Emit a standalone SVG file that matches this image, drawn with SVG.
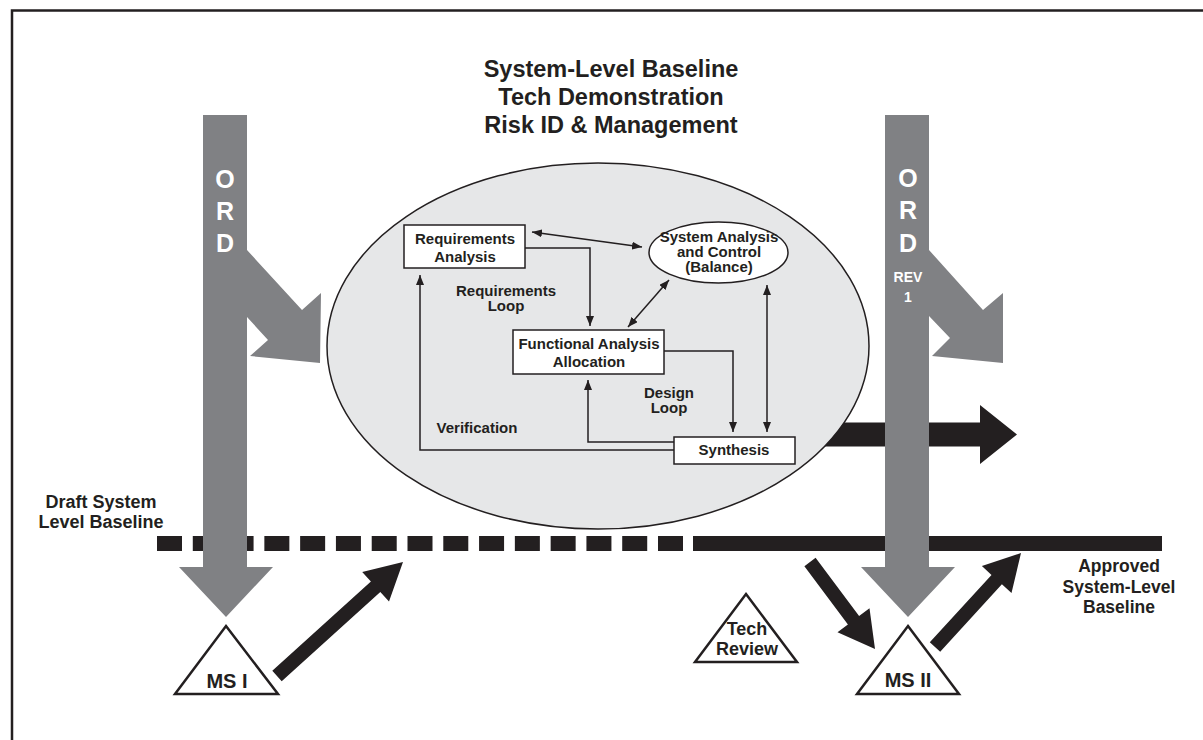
<svg xmlns="http://www.w3.org/2000/svg" width="1203" height="740" viewBox="0 0 1203 740">
<defs>
<marker id="ah" viewBox="0 0 10 8" refX="10" refY="4" markerWidth="10" markerHeight="8" markerUnits="userSpaceOnUse" orient="auto-start-reverse">
<path d="M0,0 L10,4 L0,8 z" fill="#231f20"/>
</marker>
</defs>
<style>
.t{font-family:"Liberation Sans",Arial,sans-serif;font-weight:bold;fill:#231f20;text-anchor:middle}
.w{font-family:"Liberation Sans",Arial,sans-serif;font-weight:bold;fill:#ffffff;text-anchor:middle}
.gray{fill:#808184}
.blk{fill:#231f20}
.box{fill:#ffffff;stroke:#231f20;stroke-width:1.5}
.ln{fill:none;stroke:#231f20;stroke-width:1.5}
.tri{fill:#ffffff;stroke:#231f20;stroke-width:2.5;stroke-linejoin:miter}
</style>
<rect width="1203" height="740" fill="#ffffff"/>
<g id="frame">
<path d="M12,740 V10.5 H1203" fill="none" stroke="#231f20" stroke-width="2.5"/>
</g>
<g id="title">
<text class="t" x="611" y="77" font-size="23.5">System-Level Baseline</text>
<text class="t" x="611" y="105" font-size="23.5">Tech Demonstration</text>
<text class="t" x="611" y="133" font-size="23.5">Risk ID &amp; Management</text>
</g>
<g id="output-arrow">
<polygon class="blk" points="780,422.5 980,422.5 980,405 1017,434.5 980,464 980,446.5 780,446.5"/>
</g>
<g id="se-process">
<ellipse cx="598" cy="346" rx="271" ry="183" fill="#e6e7e8" stroke="#231f20" stroke-width="1.5"/>
</g>
<g id="connectors">
<line class="ln" x1="532" y1="232" x2="642" y2="247" marker-start="url(#ah)" marker-end="url(#ah)"/>
<line class="ln" x1="669" y1="280" x2="628" y2="327" marker-start="url(#ah)" marker-end="url(#ah)"/>
<line class="ln" x1="767" y1="285" x2="767" y2="432" marker-start="url(#ah)" marker-end="url(#ah)"/>
<path class="ln" d="M525,248 H590 V326" marker-end="url(#ah)"/>
<path class="ln" d="M664,351 H733 V432" marker-end="url(#ah)"/>
<path class="ln" d="M674,442 H588 V380" marker-end="url(#ah)"/>
<path class="ln" d="M674,450 H420 V275" marker-end="url(#ah)"/>
</g>
<g id="requirements-analysis">
<rect class="box" x="404" y="225" width="121" height="43"/>
<text class="t" x="465" y="244" font-size="15">Requirements</text>
<text class="t" x="465" y="262" font-size="15">Analysis</text>
</g>
<g id="system-analysis">
<ellipse class="box" cx="718.5" cy="252.5" rx="69.5" ry="30.5"/>
<text class="t" x="719" y="242" font-size="15">System Analysis</text>
<text class="t" x="719" y="257" font-size="15">and Control</text>
<text class="t" x="719" y="272" font-size="15">(Balance)</text>
</g>
<g id="functional-analysis">
<rect class="box" x="513" y="330" width="151" height="44"/>
<text class="t" x="589" y="349" font-size="15">Functional Analysis</text>
<text class="t" x="589" y="367" font-size="15">Allocation</text>
</g>
<g id="synthesis">
<rect class="box" x="674" y="437" width="121" height="27"/>
<text class="t" x="734" y="455" font-size="15">Synthesis</text>
</g>
<g id="loop-labels">
<text class="t" x="506" y="296" font-size="15">Requirements</text>
<text class="t" x="506" y="311" font-size="15">Loop</text>
<text class="t" x="669" y="398" font-size="15">Design</text>
<text class="t" x="669" y="413" font-size="15">Loop</text>
<text class="t" x="477" y="433" font-size="15">Verification</text>
</g>
<g id="baselines">
<line x1="157" y1="543.5" x2="683" y2="543.5" stroke="#231f20" stroke-width="15" stroke-dasharray="25 10.786"/>
<rect class="blk" x="693" y="536" width="469" height="15"/>
</g>
<g id="ord-left">
<polygon class="gray" points="203,115 247,115 247,250 302,310 321,293 320,363 250,356 268,340 247,317 247,567 273,567 226,617 179,567 203,567"/>
<text class="w" x="225" y="188" font-size="25">O</text>
<text class="w" x="225" y="220" font-size="25">R</text>
<text class="w" x="225" y="252" font-size="25">D</text>
</g>
<g id="ord-right">
<polygon class="gray" points="885,115 929,115 929,250 983,310 1003,293 1003,363 932,356 950,338 929,316 929,567 955,567 908,617 861,567 885,567"/>
<text class="w" x="908" y="187" font-size="25">O</text>
<text class="w" x="908" y="219" font-size="25">R</text>
<text class="w" x="908" y="252" font-size="25">D</text>
<text class="w" x="908" y="282" font-size="14">REV</text>
<text class="w" x="908" y="302" font-size="14">1</text>
</g>
<g id="milestone-arrows">
<polygon class="blk" points="272.3,670.8 370.9,581.6 362.2,572 403,562 389,601.6 380.3,592 281.7,681.2"/>
<polygon class="blk" points="815.6,557.8 859.1,616 869.5,608.2 875,649 837.5,632.2 847.9,624.4 804.4,566.2"/>
<polygon class="blk" points="929.8,642.3 991.5,574.9 981.9,566.1 1021,553 1011.5,593.1 1001.9,584.3 940.2,651.7"/>
</g>
<g id="ms1">
<polygon class="tri" points="226,626 278,694 175,694"/>
<text class="t" x="227" y="688" font-size="20">MS I</text>
</g>
<g id="tech-review">
<polygon class="tri" points="746,594 797,662 695,662"/>
<text class="t" x="747" y="635" font-size="18">Tech</text>
<text class="t" x="747" y="655" font-size="18">Review</text>
</g>
<g id="ms2">
<polygon class="tri" points="908,626 959,694 857,694"/>
<text class="t" x="908" y="687" font-size="20">MS II</text>
</g>
<g id="labels">
<text class="t" x="101" y="508" font-size="18">Draft System</text>
<text class="t" x="101" y="528" font-size="18">Level Baseline</text>
<text class="t" x="1119" y="572" font-size="17.5">Approved</text>
<text class="t" x="1119" y="593" font-size="17.5">System-Level</text>
<text class="t" x="1119" y="613" font-size="17.5">Baseline</text>
</g>
</svg>
